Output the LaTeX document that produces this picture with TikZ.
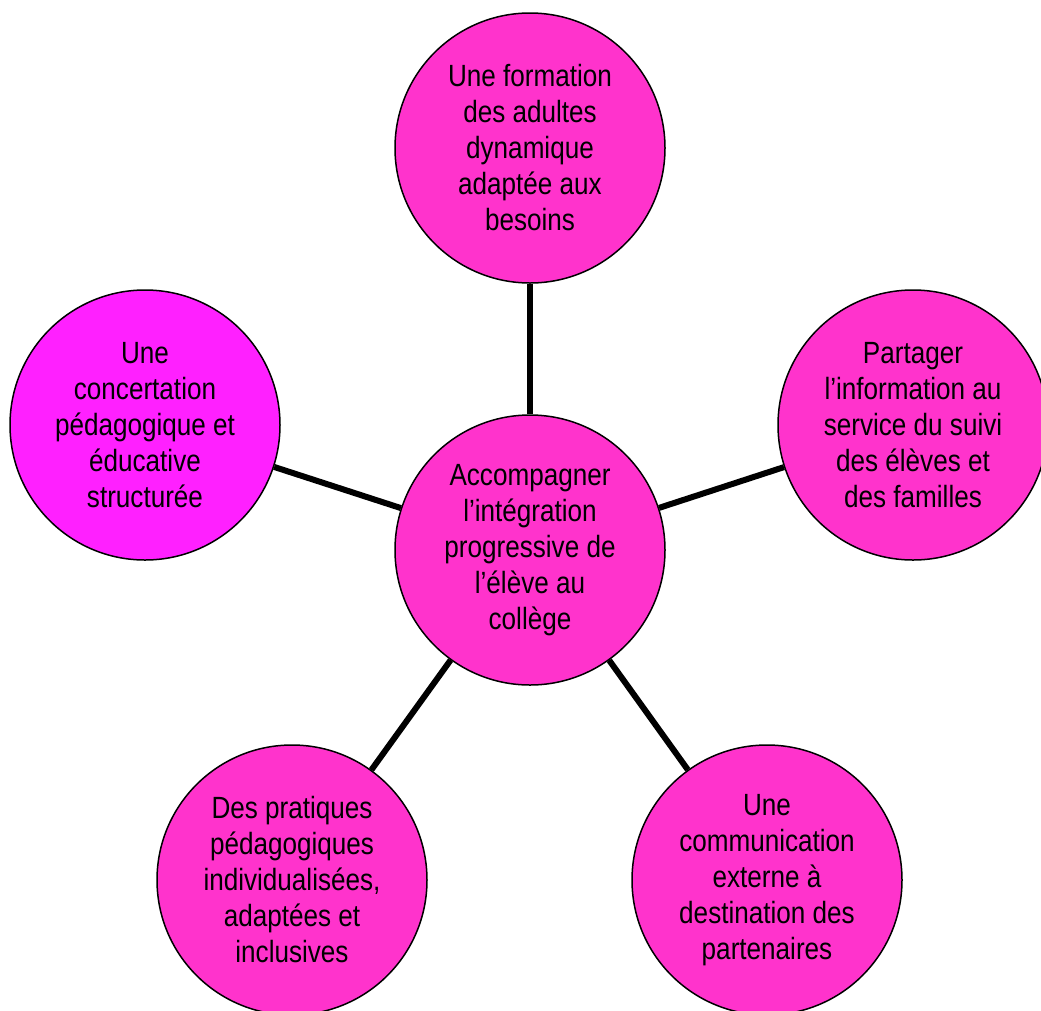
\documentclass[tikz,border=0pt]{standalone}
\usepackage{fontspec}
\setmainfont{Liberation Sans}[FakeStretch=0.85]
\definecolor{rose}{RGB}{255,51,204}
\definecolor{violine}{RGB}{255,32,255}
\tikzset{
  bulle/.style={circle, draw=black, line width=1.5pt, fill=rose,
    minimum size=270pt, inner sep=0pt, align=center,
    font=\fontsize{30.7}{36}\selectfont},
  lien/.style={line width=6pt}
}

\begin{document}
\begin{tikzpicture}[x=1pt,y=-1pt]
                        \useasboundingbox (0,0) rectangle (1041,1010);

                        \node[bulle] (C) at (530,550) {Accompagner\\l’intégration\\progressive de\\l’élève au\\collège};

                        \node[bulle] (H) at (530,148) {Une formation\\des adultes\\dynamique\\adaptée aux\\besoins};
                        \node[bulle, fill=violine] (G) at (145,425) {Une\\concertation\\pédagogique et\\éducative\\structurée};
                        \node[bulle] (D) at (913,425) {Partager\\l’information au\\service du suivi\\des élèves et\\des familles};
                        \node[bulle] (BG) at (292,880) {Des pratiques\\pédagogiques\\individualisées,\\adaptées et\\inclusives};
                        \node[bulle] (BD) at (767,880) {Une\\communication\\externe à\\destination des\\partenaires};

                        \draw[lien] (C) -- (H);
                        \draw[lien] (C) -- (G);
                        \draw[lien] (C) -- (D);
                        \draw[lien] (C) -- (BG);
                        \draw[lien] (C) -- (BD);
                    \end{tikzpicture}
\end{document}
